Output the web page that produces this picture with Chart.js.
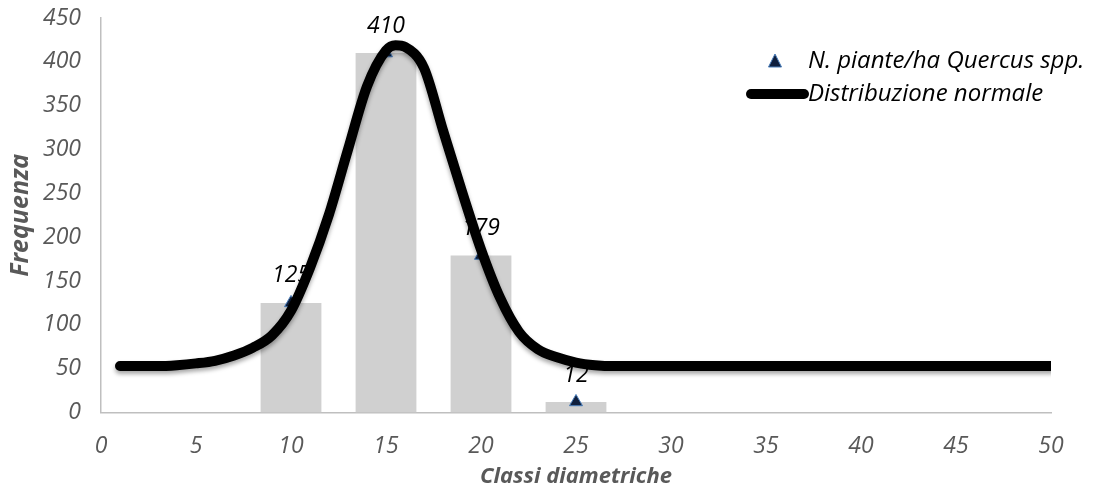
<!DOCTYPE html>
<html>
<head>
<meta charset="utf-8">
<script src="https://cdn.jsdelivr.net/npm/chart.js@4/dist/chart.umd.min.js"></script>
<style>
  html, body { margin: 0; padding: 0; background: #fff; }
</style>
</head>
<body>
<canvas id="chart" width="1093" height="490"></canvas>
<script>
// classi diametriche e frequenze osservate
const classi = [10, 15, 20, 25];
const piante = [125, 410, 179, 12];

// curva della distribuzione normale
const curvaX = [1, 2, 3, 4, 5, 6, 7, 8, 9, 10, 11, 12, 13, 14, 15, 15.5, 16, 17, 18, 19, 20, 21, 22, 23, 24, 25, 26, 27, 30, 35, 40, 45, 50];
const curvaY = [53, 53, 53, 54, 56, 59, 65, 74, 88, 116, 165, 226, 300, 372, 413, 419, 417, 393, 322, 252, 186, 131, 92, 72, 63, 57, 54, 53, 53, 53, 53, 53, 53];

const serieLabels = ['N. piante/ha Quercus spp.', 'Distribuzione normale'];
const xTitle = 'Classi diametriche';
const yTitle = 'Frequenza';

const grey = '#595959';
const fontFam = "'Open Sans', sans-serif";
Chart.defaults.font.family = fontFam;

const toPts = (xs, ys) => xs.map((x, i) => ({ x: x, y: ys[i] }));

// ombra sotto la linea
const lineShadow = {
    id: 'lineShadow',
    beforeDatasetDraw(chart, args) {
        if (args.index !== 2) return;
        const ctx = chart.ctx;
        ctx.save();
        ctx.shadowColor = 'rgba(0,0,0,0.35)';
        ctx.shadowBlur = 4;
        ctx.shadowOffsetY = 3;
    },
    afterDatasetDraw(chart, args) {
        if (args.index !== 2) return;
        chart.ctx.restore();
    }
};

// etichette dei valori sopra i triangoli
const valueLabels = {
    id: 'valueLabels',
    afterDatasetsDraw(chart) {
        const ctx = chart.ctx;
        const meta = chart.getDatasetMeta(1);
        ctx.save();
        ctx.font = 'italic 23px ' + fontFam;
        ctx.fillStyle = '#000';
        ctx.textAlign = 'center';
        ctx.textBaseline = 'middle';
        meta.data.forEach((pt, i) => {
            ctx.fillText(String(piante[i]), pt.x, pt.y - 27);
        });
        ctx.restore();
    }
};

// legenda
const customLegend = {
    id: 'customLegend',
    afterDraw(chart) {
        const ctx = chart.ctx;
        ctx.save();
        ctx.font = 'italic 24px ' + fontFam;
        ctx.textAlign = 'left';
        ctx.textBaseline = 'middle';

        // triangolo
        ctx.beginPath();
        ctx.moveTo(775, 54);
        ctx.lineTo(781.5, 67);
        ctx.lineTo(768.5, 67);
        ctx.closePath();
        ctx.fillStyle = '#0f1f3d';
        ctx.fill();
        ctx.strokeStyle = '#4a7ebb';
        ctx.lineWidth = 1;
        ctx.stroke();
        ctx.fillStyle = '#000';
        ctx.fillText(serieLabels[0], 808, 61);

        // linea
        ctx.beginPath();
        ctx.moveTo(751, 94);
        ctx.lineTo(804, 94);
        ctx.strokeStyle = '#000';
        ctx.lineWidth = 10;
        ctx.lineCap = 'round';
        ctx.stroke();
        ctx.fillText(serieLabels[1], 808, 94);
        ctx.restore();
    }
};

new Chart(document.getElementById('chart'), {
    type: 'bar',
    data: {
        datasets: [
            {
                type: 'bar',
                label: 'barre',
                data: toPts(classi, piante),
                backgroundColor: '#d0d0d0',
                barPercentage: 0.64,
                categoryPercentage: 1,
                order: 3
            },
            {
                type: 'scatter',
                label: serieLabels[0],
                data: toPts(classi, piante),
                pointStyle: 'triangle',
                pointRadius: 7.5,
                backgroundColor: '#0f1f3d',
                borderColor: '#4a7ebb',
                borderWidth: 1,
                order: 2
            },
            {
                type: 'line',
                label: serieLabels[1],
                data: toPts(curvaX, curvaY),
                borderColor: '#000',
                borderWidth: 10,
                pointRadius: 0,
                fill: false,
                cubicInterpolationMode: 'monotone',
                borderCapStyle: 'round',
                borderJoinStyle: 'round',
                order: 1
            }
        ]
    },
    options: {
        responsive: false,
        animation: false,
        layout: { padding: { top: 18, right: 42, bottom: 0, left: 0 } },
        plugins: {
            legend: { display: false },
            tooltip: { enabled: false }
        },
        scales: {
            x: {
                type: 'linear',
                offset: false,
                min: 0,
                max: 50,
                grid: { display: false, drawTicks: false },
                border: { display: true, color: '#bfbfbf', width: 1.5 },
                ticks: {
                    stepSize: 5,
                    padding: 20,
                    color: grey,
                    font: { size: 23, style: 'italic' }
                },
                title: {
                    display: true,
                    text: xTitle,
                    color: grey,
                    font: { size: 22, style: 'italic', weight: 'bold' },
                    padding: { top: 0, bottom: 0 }
                },
                afterFit: (s) => { s.height = 77.5; }
            },
            y: {
                min: 0,
                max: 450,
                grid: { display: false, drawTicks: false },
                border: { display: true, color: '#bfbfbf', width: 1.5 },
                ticks: {
                    stepSize: 50,
                    padding: 20,
                    color: grey,
                    font: { size: 23, style: 'italic' }
                },
                title: {
                    display: true,
                    text: yTitle,
                    color: grey,
                    font: { size: 25, style: 'italic', weight: 'bold' },
                    padding: { top: 6, bottom: 0 }
                },
                afterFit: (s) => {
                    s.width = 101;
                    s.paddingTop = 0;
                    s.paddingBottom = 0;
                }
            }
        }
    },
    plugins: [lineShadow, valueLabels, customLegend]
});
</script>
</body>
</html>
